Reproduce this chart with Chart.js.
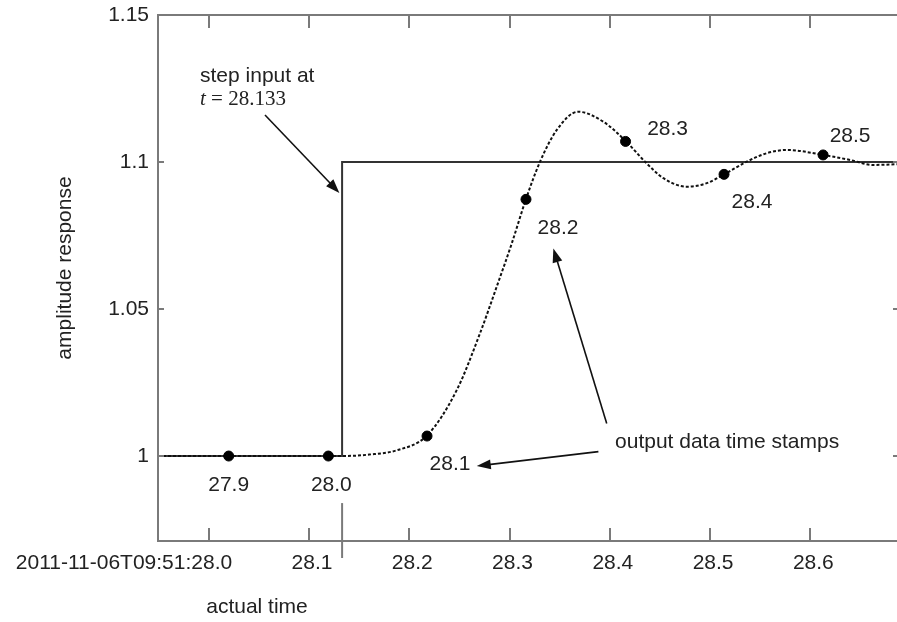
<!DOCTYPE html>
<html>
<head>
<meta charset="utf-8">
<script src="https://cdn.jsdelivr.net/npm/chart.js@4.4.1/dist/chart.umd.min.js"></script>
<style>
  html, body { margin: 0; padding: 0; background: #fff; overflow: hidden; }
  #wrap { position: absolute; left: 0; top: 0; width: 905px; height: 622px; }
</style>
</head>
<body>
<div id="wrap"><canvas id="stepChart"></canvas></div>
<script>
"use strict";

// step input: actual time / amplitude
let stepTime = 28.133;
let stepT = [27.9494, stepTime, stepTime, 28.69];
let stepY = [1, 1, 1.1, 1.1];

// continuous output response (dotted curve)
let curveT = [27.9494, 28.133, 28.16, 28.188, 28.2174, 28.2473, 28.2706, 28.2872, 28.3022,
  28.3164, 28.3304, 28.3471, 28.3683, 28.3935, 28.4159, 28.4351, 28.4534, 28.4767,
  28.4967, 28.5139, 28.5365, 28.5565, 28.5765, 28.613, 28.6396, 28.6628, 28.69];
let curveY = [1.0, 1.0, 1.0005, 1.002, 1.0069, 1.0224, 1.0418, 1.0576, 1.0723,
  1.0874, 1.1001, 1.1109, 1.1171, 1.1137, 1.1071, 1.1001, 1.0945, 1.0916,
  1.0928, 1.0958, 1.1001, 1.103, 1.1041, 1.1024, 1.1007, 1.099, 1.0993];

// output data time stamps (dots)
let stampT = [28.0199, 28.1193, 28.2177, 28.3164, 28.4157, 28.5139, 28.6127];
let stampY = [1.0, 1.0, 1.0068, 1.0873, 1.107, 1.0958, 1.1024];
let stampLabels = ["27.9", "28.0", "28.1", "28.2", "28.3", "28.4", "28.5"];

// ticks
let xTickValues = [28.0, 28.1, 28.2, 28.3, 28.4, 28.5, 28.6];
let yTickValues = [1, 1.05, 1.1, 1.15];
let timePrefix = "2011-11-06T09:51:";

// axis titles
let xTitle = "actual time";
let yTitle = "amplitude response";

// label offsets (px) from each dot
let stampOffsets = [[0, 29], [3, 29], [23, 28], [32, 29], [42, -12], [28, 28], [27, -19]];

// annotations, in data units
let arrows = [
  { from: [28.0561, 1.116], to: [28.1303, 1.0895] },
  { from: [28.3969, 1.0111], to: [28.3437, 1.0706] },
  { from: [28.3886, 1.0015], to: [28.2673, 0.9966] }
];

const sans = '"Liberation Sans", Arial, sans-serif';
const serif = '"Liberation Serif", "Times New Roman", serif';
const fontPx = 21;
const xLabelShift = 3;
const axisColor = "#7a7a7a";
const textColor = "#222";

function toPoints(xs, ys) {
  return xs.map((v, i) => ({ x: v, y: ys[i] }));
}

function line(ctx, x1, y1, x2, y2) {
  ctx.beginPath();
  ctx.moveTo(x1, y1);
  ctx.lineTo(x2, y2);
  ctx.stroke();
}

function arrow(ctx, x1, y1, x2, y2) {
  const ang = Math.atan2(y2 - y1, x2 - x1);
  const len = 14, half = 5;
  const c = Math.cos(ang), s = Math.sin(ang);
  line(ctx, x1, y1, x2 - len * 0.7 * c, y2 - len * 0.7 * s);
  ctx.beginPath();
  ctx.moveTo(x2, y2);
  ctx.lineTo(x2 - len * c + half * s, y2 - len * s - half * c);
  ctx.lineTo(x2 - len * c - half * s, y2 - len * s + half * c);
  ctx.closePath();
  ctx.fill();
}

const decorations = {
  id: "decorations",
  afterDatasetsDraw(chart) {
    const ctx = chart.ctx;
    const a = chart.chartArea;
    const xs = chart.scales.x, ys = chart.scales.y;
    ctx.save();

    // frame + inward ticks
    ctx.strokeStyle = axisColor;
    ctx.lineWidth = 2;
    ctx.strokeRect(a.left, a.top, a.right - a.left, a.bottom - a.top);
    xs.ticks.forEach(t => {
      let px = Math.round(xs.getPixelForValue(t.value));
      line(ctx, px, a.bottom, px, a.bottom - 13);
      line(ctx, px, a.top, px, a.top + 13);
    });
    ys.ticks.forEach(t => {
      let py = Math.round(ys.getPixelForValue(t.value));
      line(ctx, a.left, py, a.left + 6, py);
      line(ctx, a.right, py, a.right - 6, py);
    });

    // step time marker across the time axis
    let sx = xs.getPixelForValue(stepTime);
    line(ctx, sx, ys.getPixelForValue(0.984), sx, a.bottom + 17);

    // date prefix in front of the first tick label
    ctx.fillStyle = textColor;
    ctx.font = fontPx + "px " + sans;
    ctx.textBaseline = "middle";
    let first = xs.ticks[0];
    let fx = xs.getPixelForValue(first.value) + xLabelShift - ctx.measureText(first.value.toFixed(1)).width / 2;
    ctx.textAlign = "right";
    ctx.fillText(timePrefix, fx, a.bottom + 10 + fontPx * 0.6);

    // axis titles
    ctx.textAlign = "center";
    ctx.fillText(xTitle, 257, 607);
    ctx.save();
    ctx.translate(65, 268);
    ctx.rotate(-Math.PI / 2);
    ctx.fillText(yTitle, 0, 0);
    ctx.restore();

    // stamp labels
    stampLabels.forEach((lab, i) => {
      let px = xs.getPixelForValue(stampT[i]) + stampOffsets[i][0];
      let py = ys.getPixelForValue(stampY[i]) + stampOffsets[i][1];
      ctx.fillText(lab, px, py);
    });

    // notes
    ctx.textAlign = "left";
    ctx.fillText("step input at", xs.getPixelForValue(27.9913), ys.getPixelForValue(1.1293));
    let tx = xs.getPixelForValue(27.9913), ty = ys.getPixelForValue(1.1211);
    ctx.font = "italic " + fontPx + "px " + serif;
    ctx.fillText("t", tx, ty);
    let tw = ctx.measureText("t").width;
    ctx.font = fontPx + "px " + serif;
    ctx.fillText(" = 28.133", tx + tw, ty);
    ctx.font = fontPx + "px " + sans;
    ctx.fillText("output data time stamps", xs.getPixelForValue(28.4052), ys.getPixelForValue(1.0048));

    // arrows
    ctx.strokeStyle = "#111";
    ctx.fillStyle = "#111";
    ctx.lineWidth = 1.6;
    arrows.forEach(ar => {
      arrow(ctx,
        xs.getPixelForValue(ar.from[0]), ys.getPixelForValue(ar.from[1]),
        xs.getPixelForValue(ar.to[0]), ys.getPixelForValue(ar.to[1]));
    });
    ctx.restore();
  }
};

Chart.defaults.font.family = sans;
Chart.defaults.font.size = fontPx;
Chart.defaults.color = textColor;

new Chart(document.getElementById("stepChart"), {
  type: "scatter",
  data: {
    datasets: [
      {
        label: "output data time stamps",
        data: toPoints(stampT, stampY),
        backgroundColor: "#000",
        borderColor: "#000",
        pointRadius: 5,
        showLine: false,
        order: 0
      },
      {
        label: "response",
        data: toPoints(curveT, curveY),
        borderColor: "#111",
        borderWidth: 2,
        borderDash: [3, 2],
        pointRadius: 0,
        showLine: true,
        cubicInterpolationMode: "monotone",
        order: 1
      },
      {
        label: "step input",
        data: toPoints(stepT, stepY),
        borderColor: "#333",
        borderWidth: 2,
        pointRadius: 0,
        showLine: true,
        tension: 0,
        order: 2
      }
    ]
  },
  plugins: [decorations],
  options: {
    responsive: true,
    maintainAspectRatio: false,
    animation: false,
    layout: { padding: { top: 15, right: 1, left: 0, bottom: 0 } },
    plugins: {
      legend: { display: false },
      tooltip: { enabled: false }
    },
    scales: {
      x: {
        type: "linear",
        min: 27.9494,
        max: 28.6884,
        grid: { display: false, drawTicks: false },
        border: { display: false },
        afterFit: s => { s.height = 81; s.paddingLeft = 0; s.paddingRight = 0; },
        afterBuildTicks: s => { s.ticks = xTickValues.map(v => ({ value: v })); },
        ticks: {
          autoSkip: false,
          maxRotation: 0,
          padding: 10,
          labelOffset: xLabelShift,
          callback: v => v.toFixed(1)
        }
      },
      y: {
        min: 0.9711,
        max: 1.15,
        grid: { display: false, drawTicks: false },
        border: { display: false },
        afterFit: s => { s.width = 158; s.paddingTop = 0; s.paddingBottom = 0; },
        afterBuildTicks: s => { s.ticks = yTickValues.map(v => ({ value: v })); },
        ticks: {
          padding: 9,
          callback: v => String(+v.toFixed(2))
        }
      }
    }
  }
});
</script>
</body>
</html>
